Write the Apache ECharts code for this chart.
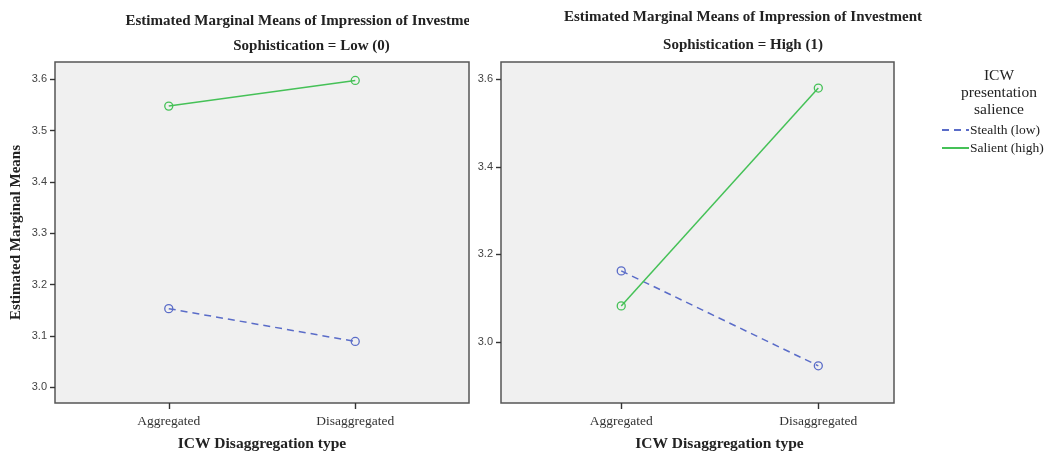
<!DOCTYPE html>
<html><head><meta charset="utf-8">
<script src="https://cdn.jsdelivr.net/npm/echarts@6/dist/echarts.min.js"></script>
<style>html,body{margin:0;padding:0;background:#fff}#c{width:1047px;height:458px}</style>
</head><body><div id="c"></div>
<script>
const categories = ['Aggregated', 'Disaggregated'];
const lowStealth = [3.153, 3.089];
const lowSalient = [3.548, 3.598];
const highStealth = [3.162, 2.945];
const highSalient = [3.082, 3.580];
const lowTicks = [3.0, 3.1, 3.2, 3.3, 3.4, 3.5, 3.6];
const highTicks = [3.0, 3.2, 3.4, 3.6];
const seriesNames = ['Stealth (low)', 'Salient (high)'];
const mainTitle = 'Estimated Marginal Means of Impression of Investment';
const panelTitles = ['Sophistication = Low (0)', 'Sophistication = High (1)'];
const legendTitle = 'ICW\npresentation\nsalience';
const xName = 'ICW Disaggregation type';
const yName = 'Estimated Marginal Means';

const BLUE = '#5a6cc8', GREEN = '#45c157';
const serif = '"Liberation Serif", "DejaVu Serif", serif';
const sans = '"Liberation Sans", Arial, sans-serif';

const toPts = arr => arr.map((v, i) => [i, v]);

function xAxis(gi, min, max, pad) {
  return {
    type: 'value', gridIndex: gi, min: min, max: max,
    splitLine: {show: false},
    axisLine: {show: false, onZero: false},
    axisTick: {show: true, customValues: categories.map((c, i) => i), length: 6, lineStyle: {color: '#333', width: 1.4}},
    axisLabel: {customValues: categories.map((c, i) => i), formatter: v => categories[Math.round(v)] || '',
      fontFamily: serif, fontSize: 13.5, color: '#333', margin: 11},
    name: xName, nameLocation: 'middle', nameGap: 33,
    nameTextStyle: {fontFamily: serif, fontSize: 15.5, fontWeight: 'bold', color: '#222', padding: pad}
  };
}
function yAxis(gi, min, max, ticks, withName) {
  const a = {
    type: 'value', gridIndex: gi, min: min, max: max,
    splitLine: {show: false},
    axisLine: {show: false, onZero: false},
    axisTick: {show: true, customValues: ticks, length: 5, lineStyle: {color: '#333', width: 1.4}},
    axisLabel: {customValues: ticks, formatter: v => v.toFixed(1), fontFamily: sans, fontSize: 11, color: '#444', margin: 8}
  };
  if (withName) {
    a.name = yName; a.nameLocation = 'middle'; a.nameGap = 31;
    a.nameTextStyle = {fontFamily: serif, fontSize: 15, fontWeight: 'bold', color: '#222'};
  }
  return a;
}
function lineSeries(name, data, gi, color, dashed) {
  return {
    type: 'line', name: name, xAxisIndex: gi, yAxisIndex: gi, data: toPts(data),
    symbol: 'circle', symbolSize: 8,
    lineStyle: {color: color, width: 1.5, type: dashed ? [7, 5] : 'solid'},
    itemStyle: {color: 'rgba(0,0,0,0)', borderColor: color, borderWidth: 1.3},
    emphasis: {disabled: true}, animation: false
  };
}

const chart = echarts.init(document.getElementById('c'));
chart.setOption({
  animation: false,
  grid: [
    {left: 55, top: 62, width: 414, height: 341, show: true, backgroundColor: '#f0f0f0', borderColor: '#555', borderWidth: 1.5},
    {left: 501, top: 62, width: 393, height: 341, show: true, backgroundColor: '#f0f0f0', borderColor: '#555', borderWidth: 1.5}
  ],
  xAxis: [xAxis(0, -0.61, 1.61, [0, 0, 0, 0]), xAxis(1, -0.61, 1.384, [0, 0, 0, 44])],
  yAxis: [yAxis(0, 2.969, 3.634, lowTicks, true), yAxis(1, 2.860, 3.6395, highTicks, false)],
  legend: {
    data: seriesNames, orient: 'vertical', left: 936, top: 118,
    itemWidth: 27, itemHeight: 14, itemGap: 4,
    itemStyle: {opacity: 0},
    textStyle: {fontFamily: serif, fontSize: 13.5, color: '#222', padding: [0, 0, 0, -4]},
    selectedMode: false
  },
  series: [
    lineSeries(seriesNames[0], lowStealth, 0, BLUE, true),
    lineSeries(seriesNames[1], lowSalient, 0, GREEN, false),
    lineSeries(seriesNames[0], highStealth, 1, BLUE, true),
    lineSeries(seriesNames[1], highSalient, 1, GREEN, false)
  ],
  graphic: [
    {type: 'text', x: 304.5, y: 21, z: 10, style: {text: mainTitle, font: 'bold 15px ' + serif, fill: '#222', textAlign: 'center', textVerticalAlign: 'middle'}},
    {type: 'rect', shape: {x: 469, y: 8, width: 92, height: 26}, z: 11, style: {fill: '#fff'}},
    {type: 'text', x: 743, y: 17, z: 12, style: {text: mainTitle, font: 'bold 15px ' + serif, fill: '#222', textAlign: 'center', textVerticalAlign: 'middle'}},
    {type: 'text', x: 311.5, y: 46, z: 10, style: {text: panelTitles[0], font: 'bold 15px ' + serif, fill: '#222', textAlign: 'center', textVerticalAlign: 'middle'}},
    {type: 'text', x: 743, y: 45, z: 10, style: {text: panelTitles[1], font: 'bold 15px ' + serif, fill: '#222', textAlign: 'center', textVerticalAlign: 'middle'}},
    {type: 'text', x: 999, y: 67, z: 10, style: {text: legendTitle, font: '15.5px ' + serif, fill: '#222', textAlign: 'center', lineHeight: 17}}
  ]
});
</script></body></html>
